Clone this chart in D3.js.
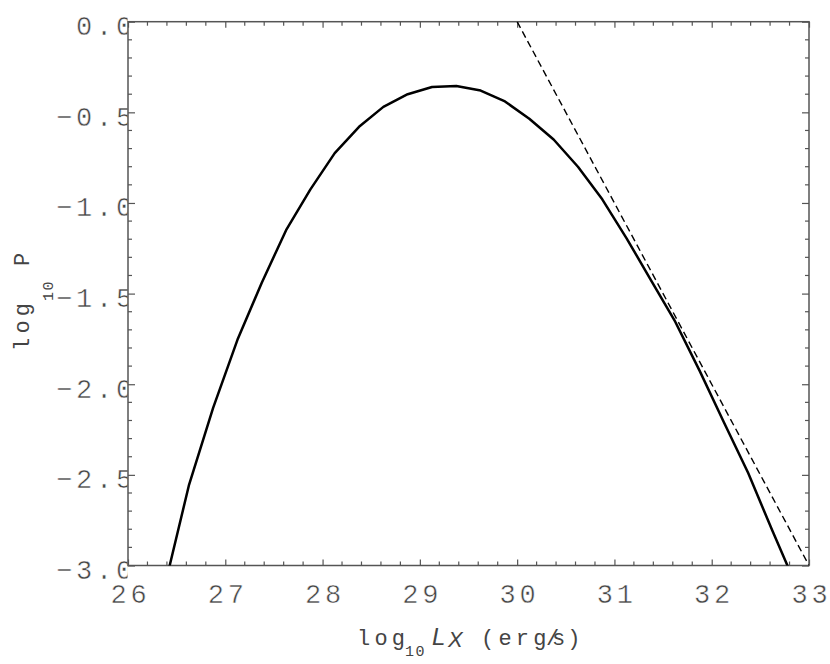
<!DOCTYPE html>
<html>
<head>
<meta charset="utf-8">
<script src="https://cdn.jsdelivr.net/npm/d3@7"></script>
<style>
  body { margin: 0; background: #fff; }
  svg { display: block; }
</style>
</head>
<body>
<svg id="the-chart"></svg>
<script>
// Model curve (log10 Lx vs log10 P)
const logL = [26.375, 26.625, 26.875, 27.125, 27.375, 27.625, 27.875, 28.125, 28.375,
              28.625, 28.875, 29.125, 29.375, 29.625, 29.875, 30.125, 30.375, 30.625,
              30.875, 31.125, 31.375, 31.625, 31.875, 32.125, 32.375, 32.625, 32.875];
const logP = [-3.12, -2.56, -2.13, -1.755, -1.44, -1.15, -0.925, -0.725, -0.58,
              -0.47, -0.40, -0.36, -0.355, -0.38, -0.44, -0.535, -0.65, -0.80,
              -0.98, -1.195, -1.425, -1.655, -1.925, -2.21, -2.49, -2.81, -3.12];

// Power-law asymptote (dashed)
const asymL = [30, 33];
const asymP = [0, -3];

const xTicks = [26, 27, 28, 29, 30, 31, 32, 33];
const yTicks = [-3.0, -2.5, -2.0, -1.5, -1.0, -0.5, 0.0];

const width = 830;
const height = 664;
const frameColor = "#555";
const textColor = "#444";
const mono = "'Liberation Mono', 'DejaVu Sans Mono', monospace";
const sans = "'Liberation Sans', Arial, sans-serif";

const x = d3.scaleLinear().domain([26, 33]).range([128, 809]);
const y = d3.scaleLinear().domain([-3, 0]).range([565.5, 21.7]);

const svg = d3.select("#the-chart")
    .attr("width", width)
    .attr("height", height)
    .attr("viewBox", [0, 0, width, height]);

const defs = svg.append("defs");
defs.append("clipPath").attr("id", "plot-clip")
  .append("rect")
    .attr("x", x(26)).attr("y", y(0))
    .attr("width", x(33) - x(26)).attr("height", y(-3) - y(0));
// the y tick labels get cut by the frame in the original
defs.append("clipPath").attr("id", "ylab-clip")
  .append("rect")
    .attr("x", -200).attr("y", -100)
    .attr("width", 200 - 0.5).attr("height", 800);

// minor ticks (every 0.2 in x, 0.1 in y), drawn inward on all four sides
const xMinor = d3.range(26, 33.001, 0.2).filter(v => Math.abs(v - Math.round(v)) > 1e-6);
const yMinor = d3.range(-3, 0.001, 0.1).filter(v => Math.abs(v * 2 - Math.round(v * 2)) > 1e-6);

const minor = svg.append("g").attr("stroke", frameColor).attr("stroke-width", 1.2);
minor.selectAll(".xb").data(xMinor).join("line")
    .attr("x1", d => x(d)).attr("x2", d => x(d))
    .attr("y1", y(-3)).attr("y2", y(-3) - 4);
minor.selectAll(".xt").data(xMinor).join("line")
    .attr("x1", d => x(d)).attr("x2", d => x(d))
    .attr("y1", y(0)).attr("y2", y(0) + 4);
minor.selectAll(".yl").data(yMinor).join("line")
    .attr("x1", x(26)).attr("x2", x(26) + 4)
    .attr("y1", d => y(d)).attr("y2", d => y(d));
minor.selectAll(".yr").data(yMinor).join("line")
    .attr("x1", x(33)).attr("x2", x(33) - 4)
    .attr("y1", d => y(d)).attr("y2", d => y(d));

// major ticks + labels through d3 axes
function styleAxis(g) {
  g.select(".domain").remove();
  g.selectAll(".tick line").attr("stroke", frameColor).attr("stroke-width", 1.2);
  g.selectAll("text")
    .attr("fill", textColor)
    .attr("stroke", "#fff")          // white hairline makes the glyphs look thinner
    .attr("stroke-width", 0.5)
    .attr("font-family", mono)
    .attr("font-size", 27)
    .attr("letter-spacing", 3.8);
}

svg.append("g")
    .attr("transform", `translate(0,${y(-3)})`)
    .call(d3.axisBottom(x).tickValues(xTicks).tickSizeInner(-6).tickSizeOuter(0)
      .tickFormat(d3.format("d")))
    .call(styleAxis)
    .call(g => g.selectAll("text").attr("dy", null).attr("y", 37).attr("dx", 1.9));

svg.append("g")
    .attr("transform", `translate(0,${y(0)})`)
    .call(d3.axisTop(x).tickValues(xTicks).tickSizeInner(-6).tickSizeOuter(0).tickFormat(""))
    .call(styleAxis);

svg.append("g")
    .attr("transform", `translate(${x(26)},0)`)
    .call(d3.axisLeft(y).tickValues(yTicks).tickSizeInner(-7).tickSizeOuter(0)
      .tickFormat(d3.format(".1f")))
    .call(styleAxis)
    .call(g => g.selectAll("text").attr("dy", null).attr("x", 8).attr("y", 13)
      .attr("clip-path", "url(#ylab-clip)"));

svg.append("g")
    .attr("transform", `translate(${x(33)},0)`)
    .call(d3.axisRight(y).tickValues(yTicks).tickSizeInner(-7).tickSizeOuter(0).tickFormat(""))
    .call(styleAxis);

// frame
svg.append("rect")
    .attr("x", x(26)).attr("y", y(0))
    .attr("width", x(33) - x(26)).attr("height", y(-3) - y(0))
    .attr("fill", "none")
    .attr("stroke", frameColor)
    .attr("stroke-width", 1.5);

// curves
const plot = svg.append("g").attr("clip-path", "url(#plot-clip)");

const line = d3.line().x(d => x(d[0])).y(d => y(d[1]));

plot.append("path")
    .datum(d3.zip(asymL, asymP))
    .attr("d", line)
    .attr("fill", "none")
    .attr("stroke", "#000")
    .attr("stroke-width", 1.4)
    .attr("stroke-dasharray", "7,4");

plot.append("path")
    .datum(d3.zip(logL, logP))
    .attr("d", line)
    .attr("fill", "none")
    .attr("stroke", "#000")
    .attr("stroke-width", 2.5)
    .attr("stroke-linejoin", "round");

// axis titles
const xt = svg.append("text")
    .attr("font-family", mono)
    .attr("font-size", 22)
    .attr("letter-spacing", 4.2)
    .attr("fill", textColor);
xt.append("tspan").attr("x", 357).attr("y", 645).text("log");
xt.append("tspan").attr("x", 405).attr("y", 656).attr("font-size", 15).attr("letter-spacing", 1.5).text("10");
xt.append("tspan").attr("x", 432).attr("y", 645).attr("font-family", sans).attr("font-style", "italic")
    .attr("font-size", 24).attr("letter-spacing", 0).text("L");
xt.append("tspan").attr("x", 448).attr("y", 647).attr("font-family", sans).attr("font-style", "italic")
    .attr("font-size", 22).attr("letter-spacing", 0).text("X");
xt.append("tspan").attr("x", 481).attr("y", 645).text("(erg");
xt.append("tspan").attr("x", 546).attr("y", 645).attr("letter-spacing", 0).text("/");
xt.append("tspan").attr("x", 552).attr("y", 645).attr("letter-spacing", 2).text("s)");

const yt = svg.append("text")
    .attr("transform", "translate(29,351) rotate(-90)")
    .attr("font-family", mono)
    .attr("font-size", 22)
    .attr("letter-spacing", 4.2)
    .attr("fill", textColor);
yt.append("tspan").attr("x", 0).attr("y", 0).text("log");
yt.append("tspan").attr("x", 50).attr("y", 24).attr("font-size", 15).attr("letter-spacing", 1.5).text("10");
yt.append("tspan").attr("x", 85).attr("y", 0).text("P");
</script>
</body>
</html>
